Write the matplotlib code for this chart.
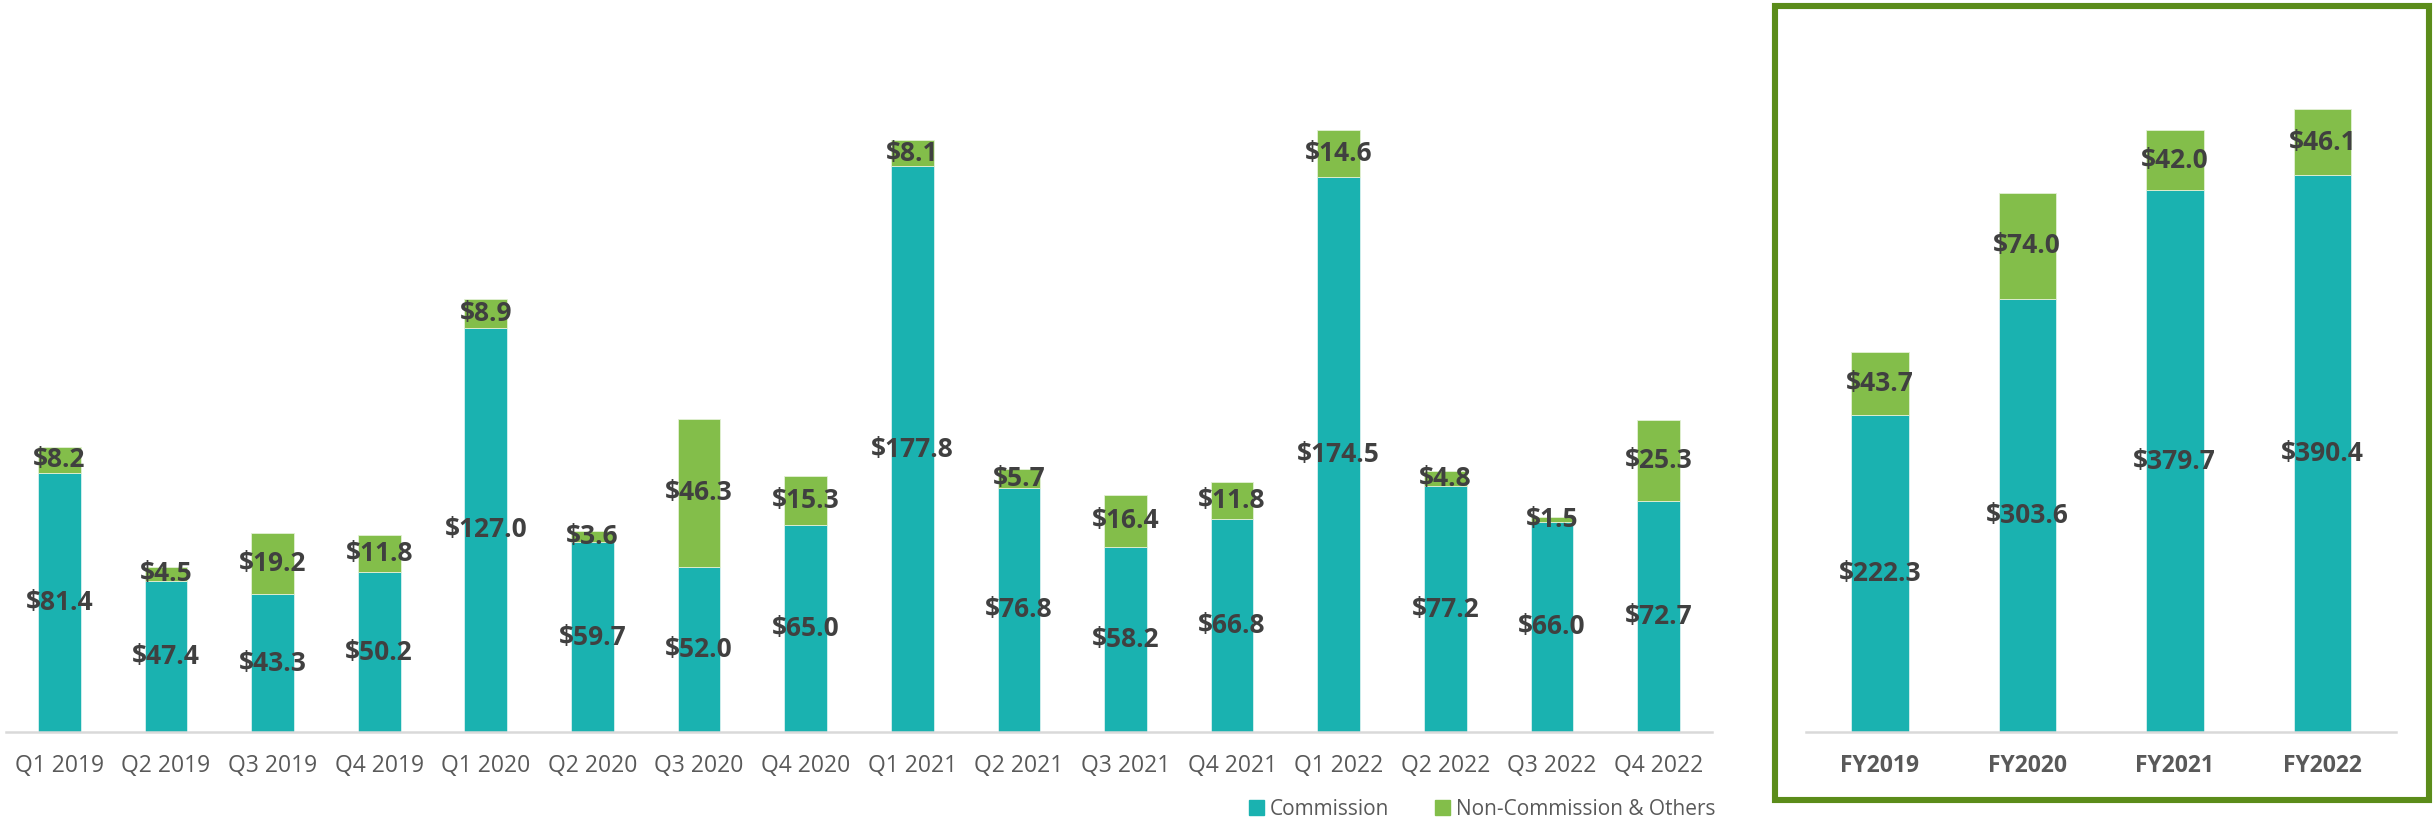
import matplotlib.pyplot as plt
from matplotlib.patches import Rectangle, Patch

plt.rcParams['font.family'] = ['Open Sans', 'DejaVu Sans']

# Dati trimestrali
quarters = ['Q1 2019', 'Q2 2019', 'Q3 2019', 'Q4 2019',
            'Q1 2020', 'Q2 2020', 'Q3 2020', 'Q4 2020',
            'Q1 2021', 'Q2 2021', 'Q3 2021', 'Q4 2021',
            'Q1 2022', 'Q2 2022', 'Q3 2022', 'Q4 2022']
q_commission = [81.4, 47.4, 43.3, 50.2, 127.0, 59.7, 52.0, 65.0,
                177.8, 76.8, 58.2, 66.8, 174.5, 77.2, 66.0, 72.7]
q_non_commission = [8.2, 4.5, 19.2, 11.8, 8.9, 3.6, 46.3, 15.3,
                    8.1, 5.7, 16.4, 11.8, 14.6, 4.8, 1.5, 25.3]

# Dati annuali
years = ['FY2019', 'FY2020', 'FY2021', 'FY2022']
fy_commission = [222.3, 303.6, 379.7, 390.4]
fy_non_commission = [43.7, 74.0, 42.0, 46.1]

TEAL = '#1AB2B0'
GREEN = '#83BE4A'
LABEL = '#404040'
TICK = '#595959'
FRAME = '#5B8C1A'

fig = plt.figure(figsize=(24.35, 8.21), dpi=100)


def stacked(ax, cats, base, top, width, tick_weight):
    x = range(len(cats))
    b1 = ax.bar(x, base, width=width, color=TEAL, edgecolor='#d8f0ef', linewidth=0.6)
    b2 = ax.bar(x, top, width=width, bottom=base, color=GREEN, edgecolor='#e3f0d6', linewidth=0.6)
    ax.bar_label(b1, labels=[f'${v:.1f}' for v in base], label_type='center',
                 fontsize=19, fontweight='bold', color=LABEL)
    ax.bar_label(b2, labels=[f'${v:.1f}' for v in top], label_type='center',
                 fontsize=19, fontweight='bold', color=LABEL)
    ax.set_xticks(list(x))
    ax.set_xticklabels(cats, fontsize=16.5, color=TICK, fontweight=tick_weight)
    ax.set_xlim(-0.5, len(cats) - 0.5)
    ax.tick_params(axis='x', length=0, pad=16)
    ax.set_yticks([])
    for s in ['top', 'right', 'left']:
        ax.spines[s].set_visible(False)
    ax.spines['bottom'].set_color('#D9D9D9')
    ax.spines['bottom'].set_linewidth(1.8)


# Grafico trimestrale
ax1 = fig.add_axes([0.0025, 0.1084, 0.7005, 0.8916])
stacked(ax1, quarters, q_commission, q_non_commission, 0.40, 'normal')
ax1.set_ylim(0, 230)

# Grafico annuale
ax2 = fig.add_axes([0.7417, 0.1084, 0.2423, 0.8916])
stacked(ax2, years, fy_commission, fy_non_commission, 0.39, 'bold')
ax2.set_ylim(0, 513)

# Cornice verde
fig.patches.append(Rectangle((0.7289, 0.0256), 0.2685, 0.9672, transform=fig.transFigure,
                             fill=False, edgecolor=FRAME, linewidth=4.4))

# Legenda
handles = [Patch(color=TEAL, label='Commission'),
           Patch(color=GREEN, label='Non-Commission & Others')]
fig.legend(handles=handles, loc='center right', bbox_to_anchor=(0.7045, 0.0146),
           ncol=2, frameon=False, fontsize=15, labelcolor=TICK,
           handlelength=0.7, handleheight=0.7, handletextpad=0.3, columnspacing=2.2,
           borderpad=0, borderaxespad=0)

fig.savefig('out.png', dpi=100)
